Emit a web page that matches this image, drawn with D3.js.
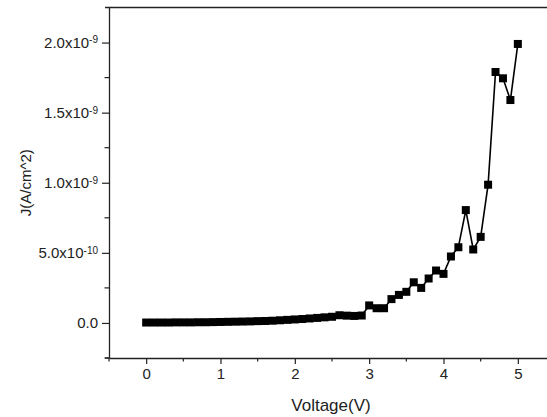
<!DOCTYPE html>
<html>
<head>
<meta charset="utf-8">
<script src="https://cdn.jsdelivr.net/npm/d3@7/dist/d3.min.js"></script>
<style>
  body { margin: 0; background: #fff; }
  svg { display: block; font-family: "Liberation Sans", Arial, sans-serif; }
</style>
</head>
<body>
<div class="chart"></div>
<script>
// voltage steps (V) and current density (units of 1e-10 A/cm^2)
var voltage = [0.0, 0.1, 0.2, 0.3, 0.4, 0.5, 0.6, 0.7, 0.8, 0.9,
               1.0, 1.1, 1.2, 1.3, 1.4, 1.5, 1.6, 1.7, 1.8, 1.9,
               2.0, 2.1, 2.2, 2.3, 2.4, 2.5, 2.6, 2.7, 2.8, 2.9,
               3.0, 3.1, 3.2, 3.3, 3.4, 3.5, 3.6, 3.7, 3.8, 3.9,
               4.0, 4.1, 4.2, 4.3, 4.4, 4.5, 4.6, 4.7, 4.8, 4.9, 5.0];
var currentE10 = [0.03, 0.03, 0.03, 0.03, 0.04, 0.04, 0.04, 0.05, 0.05, 0.06,
                  0.07, 0.08, 0.09, 0.10, 0.11, 0.13, 0.14, 0.16, 0.19, 0.22,
                  0.25, 0.28, 0.32, 0.36, 0.40, 0.44, 0.55, 0.52, 0.50, 0.53,
                  1.25, 1.05, 1.05, 1.70, 2.00, 2.22, 2.90, 2.50, 3.17, 3.74,
                  3.50, 4.74, 5.40, 8.05, 5.24, 6.14, 9.86, 17.9, 17.45, 15.9, 19.9];

var xTicks = [0, 1, 2, 3, 4, 5];
var yTicks = [0, 5e-10, 1e-9, 1.5e-9, 2e-9];
var yTickMant = ["0.0", "5.0", "1.0", "1.5", "2.0"];
var yTickExp = ["", "-10", "-9", "-9", "-9"];

var svgWidth = 547, svgHeight = 417;
var margin = { top: 7.5, right: -8, bottom: 59, left: 109 };
var width = svgWidth - margin.left - margin.right;
var height = svgHeight - margin.top - margin.bottom;

var svg = d3.select(".chart").append("svg")
    .attr("width", svgWidth)
    .attr("height", svgHeight);
var chart = svg.append("g")
    .attr("transform", "translate(" + margin.left + "," + margin.top + ")");

var x = d3.scaleLinear().domain([-0.5, 5.5]).range([0, width]);
var y = d3.scaleLinear().domain([-2.5e-10, 2.25e-9]).range([height, 0]);

var data = voltage.map(function(v, i) { return { v: v, j: currentE10[i] * 1e-10 }; });

// frame (top line)
chart.append("line")
    .attr("x1", -4).attr("x2", width).attr("y1", 0).attr("y2", 0)
    .attr("stroke", "#222").attr("stroke-width", 1.3);

// minor ticks
var xMinor = [-0.5, 0.5, 1.5, 2.5, 3.5, 4.5];
var yMinor = [-2.5e-10, 2.5e-10, 7.5e-10, 1.25e-9, 1.75e-9];

var xAxis = chart.append("g")
    .attr("transform", "translate(0," + height + ")")
    .call(d3.axisBottom(x).tickValues(xTicks).tickFormat(d3.format("d"))
        .tickSize(6).tickSizeOuter(0).tickPadding(4));
xAxis.selectAll(".tick text").attr("font-size", 15).attr("fill", "#222");
xAxis.append("g").selectAll("line").data(xMinor).enter().append("line")
    .attr("x1", function(d) { return x(d); }).attr("x2", function(d) { return x(d); })
    .attr("y1", 0).attr("y2", 3.5);
xAxis.append("line").attr("x1", -4).attr("x2", 0).attr("y1", 0).attr("y2", 0);

var yAxis = chart.append("g")
    .call(d3.axisLeft(y).tickValues(yTicks).tickSize(7).tickSizeOuter(0).tickFormat(""));
yAxis.append("g").selectAll("line").data(yMinor).enter().append("line")
    .attr("x1", 0).attr("x2", -4.5)
    .attr("y1", function(d) { return y(d); }).attr("y2", function(d) { return y(d); });

[xAxis, yAxis].forEach(function(a) {
    a.attr("font-family", null);
    a.select(".domain").attr("stroke", "#222").attr("stroke-width", 1.3);
    a.selectAll("line").attr("stroke", "#222").attr("stroke-width", 1.2);
});

// y tick labels with superscript exponents
var yLab = chart.append("g").selectAll("text").data(yTicks).enter().append("text")
    .attr("x", -11)
    .attr("y", function(d) { return y(d); })
    .attr("dy", "0.36em")
    .attr("text-anchor", "end")
    .attr("font-size", 15)
    .attr("fill", "#222");
yLab.each(function(d, i) {
    var t = d3.select(this);
    if (yTickExp[i] === "") {
        t.text(yTickMant[i]);
    } else {
        t.append("tspan").text(yTickMant[i] + "x10");
        t.append("tspan").attr("dy", "-0.45em").attr("font-size", 10).text(yTickExp[i]);
    }
});

// line and markers
var line = d3.line()
    .x(function(d) { return x(d.v); })
    .y(function(d) { return y(d.j); });
chart.append("path")
    .datum(data)
    .attr("fill", "none")
    .attr("stroke", "#000")
    .attr("stroke-width", 1.6)
    .attr("d", line);

chart.selectAll("rect.pt")
    .data(data)
    .enter()
    .append("rect")
    .attr("class", "pt")
    .attr("x", function(d) { return x(d.v) - 4; })
    .attr("y", function(d) { return y(d.j) - 4; })
    .attr("width", 8)
    .attr("height", 8)
    .attr("fill", "#000");

// axis titles
chart.append("text")
    .attr("x", x(2.5) - 1)
    .attr("y", height + 53)
    .attr("text-anchor", "middle")
    .attr("font-size", 17)
    .attr("fill", "#222")
    .text("Voltage(V)");

chart.append("text")
    .attr("transform", "rotate(-90)")
    .attr("x", -(y(1e-9)))
    .attr("y", -78)
    .attr("text-anchor", "middle")
    .attr("font-size", 15)
    .attr("fill", "#222")
    .text("J(A/cm^2)");
</script>
</body>
</html>
